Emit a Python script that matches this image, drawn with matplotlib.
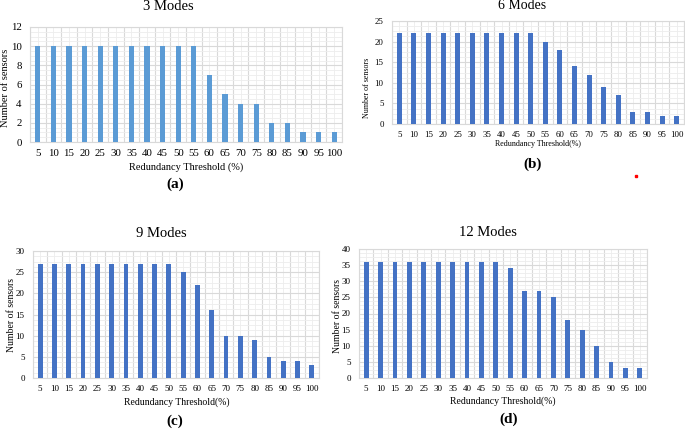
import matplotlib.pyplot as plt
from matplotlib.ticker import MultipleLocator
from matplotlib.lines import Line2D

plt.rcParams['font.family'] = ['Liberation Serif', 'DejaVu Serif']

thresholds = [5, 10, 15, 20, 25, 30, 35, 40, 45, 50, 55, 60, 65, 70, 75, 80, 85, 90, 95, 100]
sensors_3 = [10, 10, 10, 10, 10, 10, 10, 10, 10, 10, 10, 7, 5, 4, 4, 2, 2, 1, 1, 1]
sensors_6 = [22, 22, 22, 22, 22, 22, 22, 22, 22, 22, 20, 18, 14, 12, 9, 7, 3, 3, 2, 2]
sensors_9 = [27, 27, 27, 27, 27, 27, 27, 27, 27, 27, 25, 22, 16, 10, 10, 9, 5, 4, 4, 3]
sensors_12 = [36, 36, 36, 36, 36, 36, 36, 36, 36, 36, 34, 27, 27, 25, 18, 15, 10, 5, 3, 3]

W, H = 685, 429
fig = plt.figure(figsize=(W / 100, H / 100), dpi=100)


def px_axes(left, right, top, bottom):
    return fig.add_axes([left / W, 1 - bottom / H, (right - left) / W, (bottom - top) / H])


def px_text(x, y, s, **kw):
    return fig.text(x / W, 1 - y / H, s, **kw)


panels = [
    dict(vals=sensors_3, color='#5B9BD5', ymax=12, step=2, box=(30, 342, 27, 142),
         title='3 Modes', tpos=(168, 10), tsize=10.5,
         yl_pos=(6, 88), xl='Redundancy Threshold (%)', xlpos=(186, 167),
         letter='(a)', lpos=(175, 184), tick=7.8, lab=7.5),
    dict(vals=sensors_6, color='#4472C4', ymax=25, step=5, box=(392, 684, 21, 124),
         title='6 Modes', tpos=(522, 9), tsize=10,
         yl_pos=(367, 88), xl='Redundancy Threshold(%)', xlpos=(538, 144),
         letter='(b)', lpos=(533, 164), tick=6.3, lab=5.8),
    dict(vals=sensors_9, color='#4472C4', ymax=30, step=5, box=(33, 319, 251, 378),
         title='9 Modes', tpos=(161, 237.5), tsize=10.5,
         yl_pos=(12, 315), xl='Redundancy Threshold(%)', xlpos=(177, 402),
         letter='(c)', lpos=(175, 421), tick=6.5, lab=7),
    dict(vals=sensors_12, color='#4472C4', ymax=40, step=5, box=(359, 647, 249, 378),
         title='12 Modes', tpos=(488, 235.5), tsize=10.5,
         yl_pos=(338, 316), xl='Redundancy Threshold(%)', xlpos=(503, 401),
         letter='(d)', lpos=(509, 419), tick=6.5, lab=7),
]

for p in panels:
    ax = px_axes(*p['box'])
    x = range(len(thresholds))
    ax.bar(x, p['vals'], width=0.33, color=p['color'], zorder=3)
    ax.set_xlim(-0.5, len(thresholds) - 0.5)
    ax.set_ylim(0, p['ymax'])
    ax.set_xticks(list(x))
    ax.set_xticklabels([str(t) for t in thresholds], fontsize=p['tick'])
    ax.yaxis.set_major_locator(MultipleLocator(p['step']))
    ax.yaxis.set_minor_locator(MultipleLocator(p['step'] / 4))
    ax.tick_params(axis='y', labelsize=p['tick'], length=0, which='both', pad=6)
    ax.tick_params(axis='x', length=0, which='both', pad=5)
    # excel-like gridlines
    ax.grid(axis='y', which='major', color='#D9D9D9', lw=0.8, zorder=0)
    ax.grid(axis='y', which='minor', color='#EDEDED', lw=0.6, zorder=0)
    for i in range(len(thresholds) + 1):
        ax.axvline(i - 0.5, color='#D9D9D9', lw=0.8, zorder=0)
    for i in range(len(thresholds)):
        ax.axvline(i, color='#EDEDED', lw=0.6, zorder=0)
    for s in ax.spines.values():
        s.set_color('#D9D9D9')
        s.set_linewidth(0.8)
    px_text(*p['yl_pos'], 'Number of sensors', fontsize=p['lab'], rotation=90,
            ha='center', va='center')
    px_text(*p['tpos'], p['title'], fontsize=p['tsize'], ha='center', va='baseline')
    px_text(*p['xlpos'], p['xl'], fontsize=p['lab'], ha='center', va='center')
    px_text(*p['lpos'], p['letter'], fontsize=11, fontweight='bold', ha='center', va='center')

# small red speck present in the original figure
fig.add_artist(Line2D([636 / W], [1 - 176 / H], marker='s', markersize=1.5,
                      color='red', transform=fig.transFigure))

fig.savefig('out.png', dpi=100)
